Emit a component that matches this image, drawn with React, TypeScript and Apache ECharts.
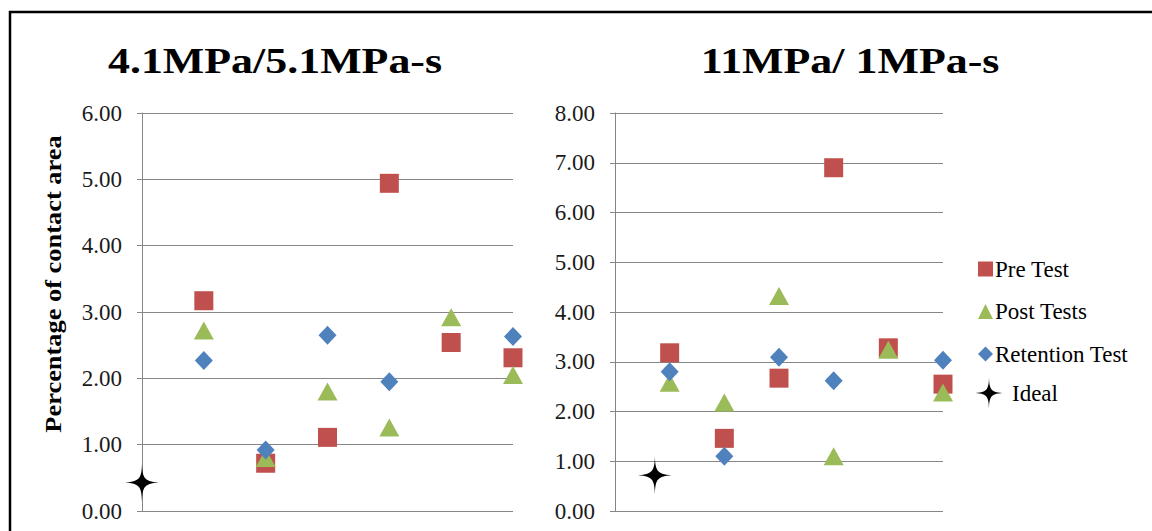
import React, { useEffect, useRef } from "react";
import * as echarts from "echarts";

// ---- data ----
const seriesNames = ["Pre Test", "Post Tests", "Retention Test", "Ideal"];
const groupX = [1, 2, 3, 4, 5, 6];

const leftTitle = "4.1MPa/5.1MPa-s";
const leftPre = [3.17, 0.72, 1.11, 4.94, 2.54, 2.31];
const leftPost = [2.72, 0.8, 1.8, 1.26, 2.92, 2.05];
const leftRetention = [2.27, 0.92, 2.65, 1.95, null, 2.63];
const leftIdeal = [[0, 0.43]];
const leftYMax = 6;

const rightTitle = "11MPa/ 1MPa-s";
const rightPre = [3.18, 1.46, 2.67, 6.9, 3.28, 2.55];
const rightPost = [2.58, 2.18, 4.32, 1.1, 3.24, 2.38];
const rightRetention = [2.8, 1.1, 3.09, 2.62, null, 3.03];
const rightIdeal = [[0.73, 0.72]];
const rightYMax = 8;

const yAxisTitle = "Percentage of contact area";

// ---- styles ----
const FONT = "'Liberation Serif', 'Times New Roman', serif";
const RED = "#C0504D";
const GREEN = "#9BBB59";
const BLUE = "#4F81BD";
const GRID = "#868686";
const STAR =
  "path://M50,0 C51,40 56,49 100,50 C56,51 51,60 50,100 C49,60 44,51 0,50 C44,49 49,40 50,0 Z";

const pair = (vals: (number | null)[]) =>
  groupX.map((x, i) => [x, vals[i]]).filter((p) => p[1] !== null);

export default function App() {
  const ref = useRef<HTMLDivElement>(null);
  useEffect(() => {
    if (!ref.current) return;
    const chart = echarts.init(ref.current, null, { renderer: "svg" });

    const mkSeries = (idx: number, pre: any, post: any, ret: any, ideal: any) => [
      {
        name: seriesNames[0], type: "scatter", xAxisIndex: idx, yAxisIndex: idx,
        data: pair(pre), symbol: "rect", symbolSize: 19, itemStyle: { color: RED, opacity: 1 },
      },
      {
        name: seriesNames[1], type: "scatter", xAxisIndex: idx, yAxisIndex: idx,
        data: pair(post), symbol: "triangle", symbolSize: [20, 18], itemStyle: { color: GREEN, opacity: 1 },
      },
      {
        name: seriesNames[2], type: "scatter", xAxisIndex: idx, yAxisIndex: idx,
        data: pair(ret), symbol: "diamond", symbolSize: [18, 19], itemStyle: { color: BLUE, opacity: 1 },
      },
      {
        name: seriesNames[3], type: "scatter", xAxisIndex: idx, yAxisIndex: idx,
        data: ideal, symbol: STAR, symbolSize: [40, 38], itemStyle: { color: "#000", opacity: 1 },
      },
    ];

    const mkY = (idx: number, max: number) => ({
      type: "value", gridIndex: idx, min: 0, max, interval: 1,
      axisLine: { show: true, lineStyle: { color: GRID, width: 1 } },
      axisTick: { show: true, length: 5, lineStyle: { color: GRID } },
      splitLine: { show: true, lineStyle: { color: GRID, width: 1 } },
      axisLabel: {
        margin: 20, fontFamily: FONT, fontSize: 23, color: "#1a1a1a",
        formatter: (v: number) => v.toFixed(2),
      },
    });
    const mkX = (idx: number) => ({
      type: "value", gridIndex: idx, min: 0, max: 6,
      axisLine: { show: false }, axisTick: { show: false },
      axisLabel: { show: false }, splitLine: { show: false },
    });

    chart.setOption({
      animation: false,
      backgroundColor: "#fff",
      grid: [
        { left: 142, right: 1152 - 513, top: 113, bottom: 531 - 511 },
        { left: 615, right: 1152 - 943, top: 113, bottom: 531 - 511 },
      ],
      xAxis: [mkX(0), mkX(1)],
      yAxis: [mkY(0, leftYMax), mkY(1, rightYMax)],
      legend: [
        {
          data: seriesNames.slice(0, 3), orient: "vertical", left: 978, top: 257, padding: 0,
          itemWidth: 15, itemHeight: 15, itemGap: 18.5,
          textStyle: { fontFamily: FONT, fontSize: 23, color: "#000", lineHeight: 24, padding: [0, 0, 0, -3] },
        },
        {
          data: [seriesNames[3]], orient: "vertical", left: 973, top: 377, padding: 0,
          itemWidth: 32, itemHeight: 32,
          textStyle: { fontFamily: FONT, fontSize: 23, color: "#000", lineHeight: 24, padding: [0, 0, 0, 2] },
        },
      ],
      graphic: [
        {
          type: "rect", silent: true,
          shape: { x: 10, y: 12, width: 1200, height: 600 },
          style: { fill: "none", stroke: "#000", lineWidth: 2.5 },
        },
        {
          type: "text", x: 275, y: 61, scaleX: 1.22,
          style: {
            text: leftTitle, fontFamily: FONT, fontSize: 36, fontWeight: "bold",
            fill: "#000", textAlign: "center", textVerticalAlign: "middle",
          },
        },
        {
          type: "text", x: 850, y: 61, scaleX: 1.22,
          style: {
            text: rightTitle, fontFamily: FONT, fontSize: 36, fontWeight: "bold",
            fill: "#000", textAlign: "center", textVerticalAlign: "middle",
          },
        },
        {
          type: "text", x: 53, y: 284, rotation: Math.PI / 2, scaleX: 1.1,
          style: {
            text: yAxisTitle, fontFamily: FONT, fontSize: 24, fontWeight: "bold",
            fill: "#000", textAlign: "center", textVerticalAlign: "middle",
          },
        },
      ],
      series: [
        ...mkSeries(0, leftPre, leftPost, leftRetention, leftIdeal),
        ...mkSeries(1, rightPre, rightPost, rightRetention, rightIdeal),
      ],
    });
    return () => chart.dispose();
  }, []);
  return (
    <div
      ref={ref}
      style={{ position: "fixed", left: 0, top: 0, width: 1152, height: 531, background: "#fff" }}
    />
  );
}
